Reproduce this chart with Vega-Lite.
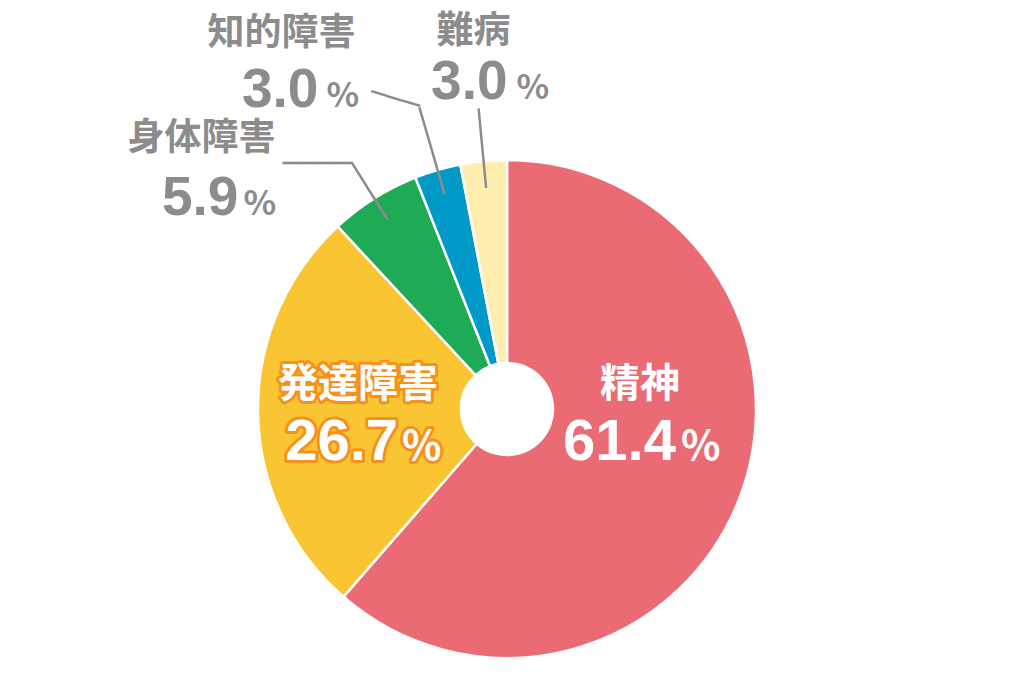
{
  "$schema": "https://vega.github.io/schema/vega-lite/v6.json",
  "width": 1014,
  "height": 530,
  "padding": {"left": 0, "top": 144, "right": 10, "bottom": 0},
  "autosize": {"type": "none"},
  "background": "white",
  "view": {"stroke": null},
  "data": {"values": [
    {"cat": "精神", "value": 61.4, "idx": 1},
    {"cat": "発達障害", "value": 26.7, "idx": 2},
    {"cat": "身体障害", "value": 5.9, "idx": 3},
    {"cat": "知的障害", "value": 3.0, "idx": 4},
    {"cat": "難病", "value": 3.0, "idx": 5}
  ]},
  "encoding": {
    "theta": {"field": "value", "type": "quantitative", "stack": true},
    "order": {"field": "idx", "type": "quantitative"}
  },
  "layer": [
    {"mark": {"type": "arc", "outerRadius": 249, "innerRadius": 46, "stroke": "white", "strokeWidth": 2.5},
     "encoding": {"color": {"field": "cat", "type": "nominal", "legend": null,
       "scale": {"domain": ["精神", "発達障害", "身体障害", "知的障害", "難病"], "range": ["#EA6B73", "#FAC533", "#1FAB55", "#0099C8", "#FFEEB0"]}}}},

    {"mark": {"type": "arc", "innerRadius": 224, "outerRadius": 290, "padAngle": 1.5, "fillOpacity": 0, "stroke": "#8C8C8C", "strokeWidth": 2.5},
     "encoding": {"strokeOpacity": {"condition": {"test": "datum.cat === '身体障害'", "value": 1}, "value": 0}}},
    {"mark": {"type": "arc", "innerRadius": 224, "outerRadius": 314, "padAngle": 1.5, "fillOpacity": 0, "stroke": "#8C8C8C", "strokeWidth": 2.5},
     "encoding": {"strokeOpacity": {"condition": {"test": "datum.cat === '知的障害'", "value": 1}, "value": 0}}},
    {"mark": {"type": "arc", "innerRadius": 222, "outerRadius": 302, "padAngle": 1.5, "fillOpacity": 0, "stroke": "#8C8C8C", "strokeWidth": 2.5},
     "encoding": {"strokeOpacity": {"condition": {"test": "datum.cat === '難病'", "value": 1}, "value": 0}}},

    {"mark": {"type": "text", "radius": 290, "align": "right", "baseline": "middle", "font": "DejaVu Sans", "fontSize": 29, "color": "#8C8C8C"},
     "encoding": {"text": {"condition": {"test": "datum.cat === '身体障害'", "value": "────"}, "value": ""}}},
    {"mark": {"type": "text", "radius": 314, "align": "right", "baseline": "middle", "angle": 16.7, "font": "DejaVu Sans", "fontSize": 28, "color": "#8C8C8C"},
     "encoding": {"text": {"condition": {"test": "datum.cat === '知的障害'", "value": "───"}, "value": ""}}},

    {"mark": {"type": "text", "radius": 142, "align": "center", "baseline": "alphabetic", "dx": 0, "dy": -62, "font": "Noto Sans CJK JP", "fontWeight": "bold", "fontSize": 40, "color": "white"},
     "encoding": {"text": {"condition": {"test": "datum.cat === '精神'", "field": "cat", "type": "nominal"}, "value": ""}}},
    {"mark": {"type": "text", "radius": 142, "align": "right", "baseline": "alphabetic", "dx": 36, "dy": 1, "font": "Liberation Sans", "fontWeight": "bold", "fontSize": 58, "color": "white"},
     "encoding": {"text": {"condition": {"test": "datum.cat === '精神'", "field": "value", "type": "quantitative", "format": ".1f"}, "value": ""}}},
    {"mark": {"type": "text", "radius": 142, "align": "left", "baseline": "alphabetic", "dx": 41, "dy": 1, "font": "Noto Sans CJK JP", "fontWeight": "bold", "fontSize": 41, "color": "white"},
     "encoding": {"text": {"condition": {"test": "datum.cat === '精神'", "value": "%"}, "value": ""}}},

    {"mark": {"type": "text", "radius": 149, "align": "center", "baseline": "alphabetic", "dx": 0, "dy": -14, "font": "Noto Sans CJK JP", "fontWeight": "bold", "fontSize": 40, "color": "#F5921E", "stroke": "#F5921E", "strokeWidth": 6, "strokeJoin": "round"},
     "encoding": {"text": {"condition": {"test": "datum.cat === '発達障害'", "field": "cat", "type": "nominal"}, "value": ""}}},
    {"mark": {"type": "text", "radius": 149, "align": "right", "baseline": "alphabetic", "dx": 40, "dy": 49, "font": "Liberation Sans", "fontWeight": "bold", "fontSize": 58, "color": "#F5921E", "stroke": "#F5921E", "strokeWidth": 6, "strokeJoin": "round"},
     "encoding": {"text": {"condition": {"test": "datum.cat === '発達障害'", "field": "value", "type": "quantitative", "format": ".1f"}, "value": ""}}},
    {"mark": {"type": "text", "radius": 149, "align": "left", "baseline": "alphabetic", "dx": 44, "dy": 49, "font": "Noto Sans CJK JP", "fontWeight": "bold", "fontSize": 41, "color": "#F5921E", "stroke": "#F5921E", "strokeWidth": 6, "strokeJoin": "round"},
     "encoding": {"text": {"condition": {"test": "datum.cat === '発達障害'", "value": "%"}, "value": ""}}},
    {"mark": {"type": "text", "radius": 149, "align": "center", "baseline": "alphabetic", "dx": 0, "dy": -14, "font": "Noto Sans CJK JP", "fontWeight": "bold", "fontSize": 40, "color": "white"},
     "encoding": {"text": {"condition": {"test": "datum.cat === '発達障害'", "field": "cat", "type": "nominal"}, "value": ""}}},
    {"mark": {"type": "text", "radius": 149, "align": "right", "baseline": "alphabetic", "dx": 40, "dy": 49, "font": "Liberation Sans", "fontWeight": "bold", "fontSize": 58, "color": "white"},
     "encoding": {"text": {"condition": {"test": "datum.cat === '発達障害'", "field": "value", "type": "quantitative", "format": ".1f"}, "value": ""}}},
    {"mark": {"type": "text", "radius": 149, "align": "left", "baseline": "alphabetic", "dx": 44, "dy": 49, "font": "Noto Sans CJK JP", "fontWeight": "bold", "fontSize": 41, "color": "white"},
     "encoding": {"text": {"condition": {"test": "datum.cat === '発達障害'", "value": "%"}, "value": ""}}},

    {"mark": {"type": "text", "radius": 290, "align": "right", "baseline": "alphabetic", "dx": -77, "dy": -14, "font": "Noto Sans CJK JP", "fontWeight": "bold", "fontSize": 37, "color": "#8C8C8C"},
     "encoding": {"text": {"condition": {"test": "datum.cat === '身体障害'", "field": "cat", "type": "nominal"}, "value": ""}}},
    {"mark": {"type": "text", "radius": 290, "align": "right", "baseline": "alphabetic", "dx": -114, "dy": 51, "font": "Liberation Sans", "fontWeight": "bold", "fontSize": 55, "color": "#8C8C8C"},
     "encoding": {"text": {"condition": {"test": "datum.cat === '身体障害'", "field": "value", "type": "quantitative", "format": ".1f"}, "value": ""}}},
    {"mark": {"type": "text", "radius": 290, "align": "left", "baseline": "alphabetic", "dx": -109, "dy": 51, "font": "Noto Sans CJK JP", "fontWeight": "bold", "fontSize": 34, "color": "#8C8C8C"},
     "encoding": {"text": {"condition": {"test": "datum.cat === '身体障害'", "value": "%"}, "value": ""}}},

    {"mark": {"type": "text", "radius": 314, "align": "right", "baseline": "alphabetic", "dx": -64, "dy": -62, "font": "Noto Sans CJK JP", "fontWeight": "bold", "fontSize": 37, "color": "#8C8C8C"},
     "encoding": {"text": {"condition": {"test": "datum.cat === '知的障害'", "field": "cat", "type": "nominal"}, "value": ""}}},
    {"mark": {"type": "text", "radius": 314, "align": "right", "baseline": "alphabetic", "dx": -101, "dy": 0, "font": "Liberation Sans", "fontWeight": "bold", "fontSize": 55, "color": "#8C8C8C"},
     "encoding": {"text": {"condition": {"test": "datum.cat === '知的障害'", "field": "value", "type": "quantitative", "format": ".1f"}, "value": ""}}},
    {"mark": {"type": "text", "radius": 314, "align": "left", "baseline": "alphabetic", "dx": -93, "dy": 0, "font": "Noto Sans CJK JP", "fontWeight": "bold", "fontSize": 34, "color": "#8C8C8C"},
     "encoding": {"text": {"condition": {"test": "datum.cat === '知的障害'", "value": "%"}, "value": ""}}},

    {"mark": {"type": "text", "radius": 302, "align": "center", "baseline": "alphabetic", "dx": -5, "dy": -65, "font": "Noto Sans CJK JP", "fontWeight": "bold", "fontSize": 37, "color": "#8C8C8C"},
     "encoding": {"text": {"condition": {"test": "datum.cat === '難病'", "field": "cat", "type": "nominal"}, "value": ""}}},
    {"mark": {"type": "text", "radius": 302, "align": "right", "baseline": "alphabetic", "dx": 29, "dy": -9, "font": "Liberation Sans", "fontWeight": "bold", "fontSize": 55, "color": "#8C8C8C"},
     "encoding": {"text": {"condition": {"test": "datum.cat === '難病'", "field": "value", "type": "quantitative", "format": ".1f"}, "value": ""}}},
    {"mark": {"type": "text", "radius": 302, "align": "left", "baseline": "alphabetic", "dx": 38, "dy": -9, "font": "Noto Sans CJK JP", "fontWeight": "bold", "fontSize": 34, "color": "#8C8C8C"},
     "encoding": {"text": {"condition": {"test": "datum.cat === '難病'", "value": "%"}, "value": ""}}}
  ]
}
